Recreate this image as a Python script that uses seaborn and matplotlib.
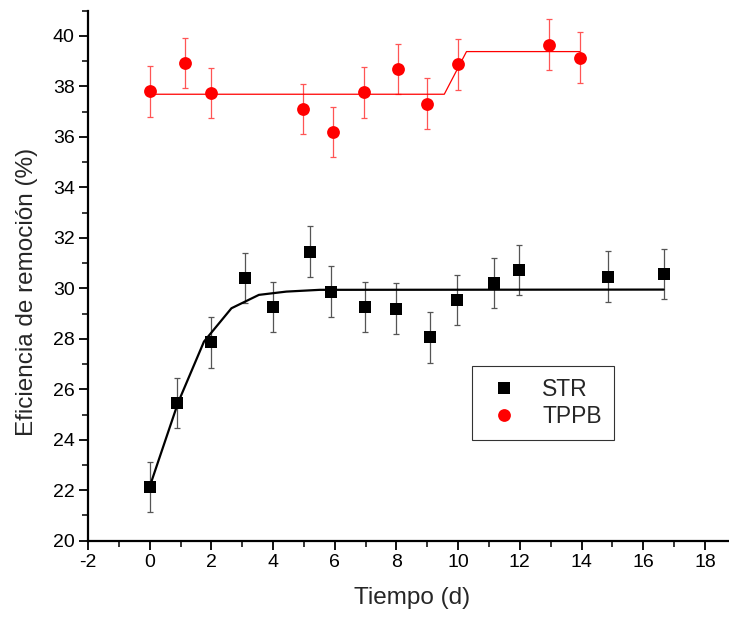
import matplotlib
matplotlib.use("Agg")
import matplotlib.pyplot as plt
from matplotlib.lines import Line2D
from matplotlib.ticker import MultipleLocator
import numpy as np
import pandas as pd
import seaborn as sns

# data
str_x = [0.0, 0.90, 1.99, 3.09, 3.99, 5.20, 5.89, 6.98, 7.98, 9.08, 9.97, 11.17, 11.96, 14.86, 16.66]
str_y = [22.12, 25.46, 27.86, 30.41, 29.27, 31.45, 29.87, 29.27, 29.20, 28.06, 29.54, 30.21, 30.73, 30.46, 30.57]
str_err = [1.0] * len(str_x)

tppb_x = [0.0, 1.13, 1.99, 4.98, 5.95, 6.95, 8.06, 8.98, 10.0, 12.95, 13.94]
tppb_y = [37.80, 38.93, 37.73, 37.10, 36.19, 37.76, 38.68, 37.32, 38.87, 39.66, 39.14]
tppb_err = [1.0] * len(tppb_x)

# fitted curves (vertices as drawn)
str_fit_x = [0.0, 0.92, 1.76, 2.65, 3.54, 4.43, 5.51, 16.66]
str_fit_y = [22.14, 25.47, 27.89, 29.21, 29.74, 29.87, 29.94, 29.95]
tppb_fit_x = [0.0, 9.55, 10.27, 13.94]
tppb_fit_y = [37.69, 37.69, 39.38, 39.38]

xticks = list(range(-2, 19, 2))
yticks = list(range(20, 41, 2))

sns.set_style("ticks")
plt.rcParams['font.family'] = ['Liberation Sans', 'DejaVu Sans']
plt.rcParams['axes.unicode_minus'] = False

fig = plt.figure(figsize=(7.29, 6.23), dpi=100)
ax = fig.add_axes([88 / 729, 82.3 / 623, 641 / 729, 530 / 623])

# error bars
ax.errorbar(str_x, str_y, yerr=str_err, fmt='none', ecolor='#555555', elinewidth=0.9, capsize=2.3, capthick=0.9, zorder=2)
ax.errorbar(tppb_x, tppb_y, yerr=tppb_err, fmt='none', ecolor='#ff5555', elinewidth=0.9, capsize=2.3, capthick=0.9, zorder=2)

# fit lines
sns.lineplot(x=str_fit_x, y=str_fit_y, sort=False, estimator=None, color='black', linewidth=1.6, ax=ax, zorder=3)
sns.lineplot(x=tppb_fit_x, y=tppb_fit_y, sort=False, estimator=None, color='red', linewidth=0.9, ax=ax, zorder=3)

# points
str_df = pd.DataFrame({'t': str_x, 'eff': str_y})
tppb_df = pd.DataFrame({'t': tppb_x, 'eff': tppb_y})
sns.scatterplot(data=str_df, x='t', y='eff', marker='s', s=72, color='black', linewidth=0, ax=ax, zorder=4)
sns.scatterplot(data=tppb_df, x='t', y='eff', marker='o', s=85, color='red', linewidth=0, ax=ax, zorder=4)

ax.set_xlim(-2, 18.78)
ax.set_ylim(20, 41)
ax.set_xticks(xticks)
ax.set_yticks(yticks)
ax.xaxis.set_minor_locator(MultipleLocator(1))
ax.yaxis.set_minor_locator(MultipleLocator(1))
ax.tick_params(which='major', direction='out', length=6.5, width=1.3, labelsize=14, pad=3, colors='black')
ax.tick_params(which='minor', direction='out', length=4, width=1.3)

for side in ['top', 'right']:
    ax.spines[side].set_visible(False)
for side in ['left', 'bottom']:
    ax.spines[side].set_linewidth(1.6)
    ax.spines[side].set_color('black')

ax.set_xlabel('Tiempo (d)', fontsize=17.5)
ax.set_ylabel('Eficiencia de remoción (%)', fontsize=17.5)
ax.xaxis.set_label_coords(0.506, -0.088)
ax.yaxis.set_label_coords(-0.078, 0.470)

handles = [
    Line2D([], [], linestyle='none', marker='s', markersize=8.5, color='black', markeredgewidth=0),
    Line2D([], [], linestyle='none', marker='o', markersize=9.2, color='red', markeredgewidth=0),
]
leg = ax.legend(handles, ['STR', 'TPPB'], loc='upper left', bbox_to_anchor=(0.5995, 0.330),
                borderaxespad=0, frameon=True, fancybox=False, fontsize=16.5,
                handletextpad=0.8, labelspacing=0.15, borderpad=0.55, handlelength=1.7)
leg.get_frame().set_edgecolor('black')
leg.get_frame().set_linewidth(0.8)

fig.savefig('out.png', dpi=100)
